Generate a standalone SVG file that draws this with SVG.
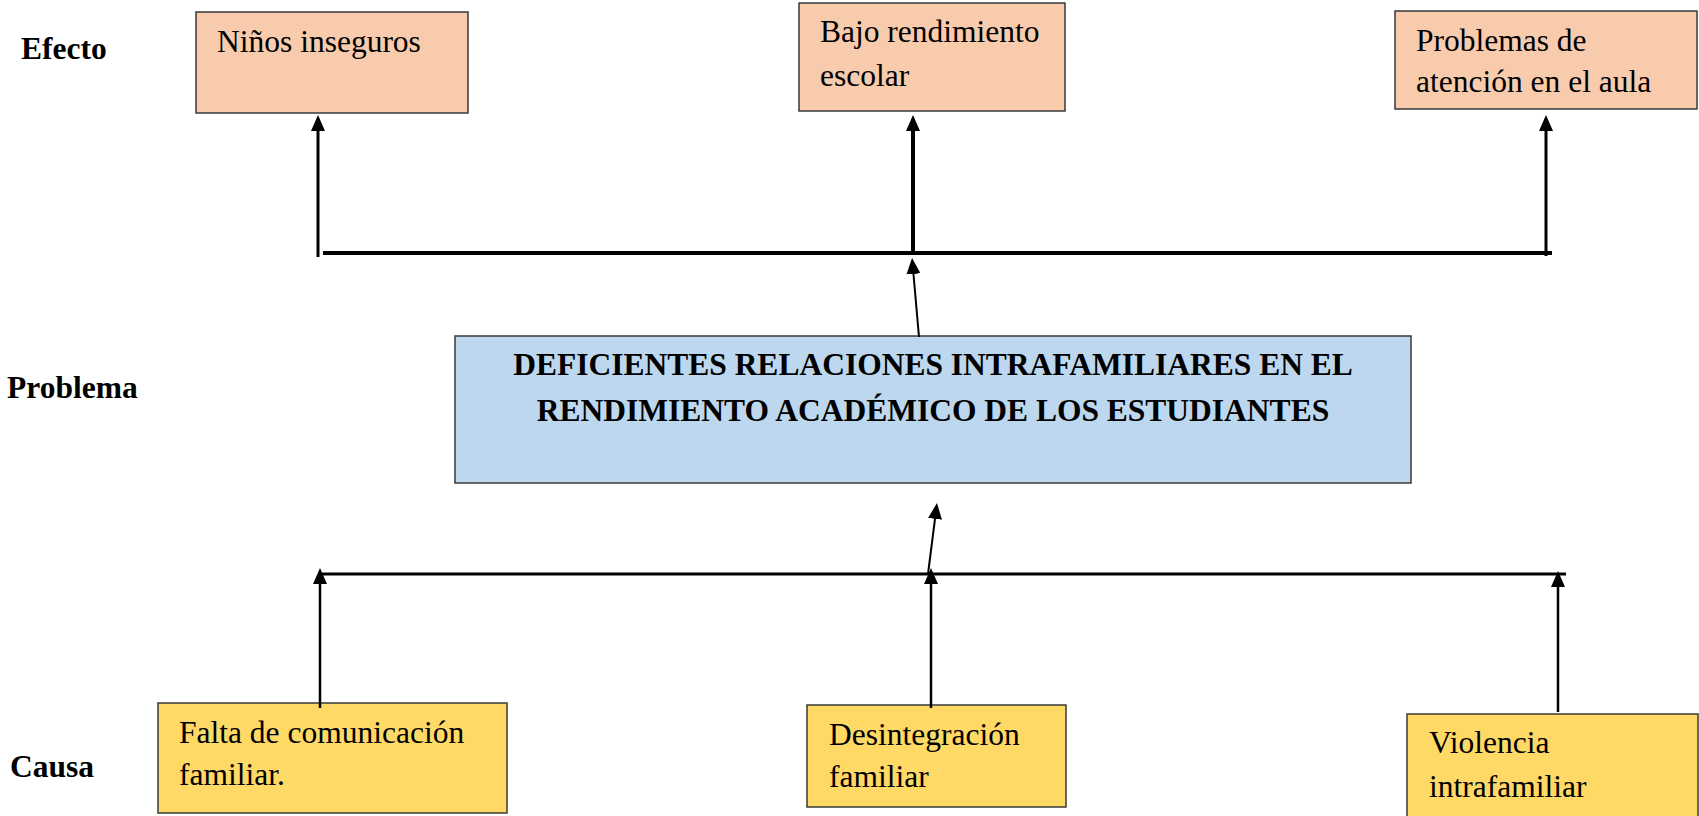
<svg xmlns="http://www.w3.org/2000/svg" width="1699" height="816" viewBox="0 0 1699 816">
<style>
  text { font-family: "Liberation Serif", "Times New Roman", serif; font-size: 31.5px; fill: #000; }
  .lbl { font-weight: bold; }
  .prob { font-weight: bold; text-anchor: middle; }
  .eff { fill: #F8CBAD; stroke: #3a3a3a; stroke-width: 1.5; }
  .cau { fill: #FFD966; stroke: #3a3a3a; stroke-width: 1.5; }
  .pb { fill: #BDD7EE; stroke: #3a3a3a; stroke-width: 1.5; }
  .ln { stroke: #000; fill: none; }
</style>
<defs>
  <marker id="ah" markerUnits="userSpaceOnUse" markerWidth="16" markerHeight="14" refX="12" refY="7" orient="auto" viewBox="0 0 16 14">
    <path d="M0,0 L16,7 L0,14 z" fill="#000"/>
  </marker>
</defs>
<rect width="1699" height="816" fill="#fff"/>

<g id="labels">
  <text class="lbl" x="21" y="59">Efecto</text>
  <text class="lbl" x="7" y="398">Problema</text>
  <text class="lbl" x="10" y="777">Causa</text>
</g>

<g id="effect1">
  <rect class="eff" x="196" y="12" width="272" height="101"/>
  <text x="217" y="52">Niños inseguros</text>
</g>
<g id="effect2">
  <rect class="eff" x="799" y="3" width="266" height="108"/>
  <text x="820" y="42">Bajo rendimiento</text>
  <text x="820" y="86">escolar</text>
</g>
<g id="effect3">
  <rect class="eff" x="1395" y="11" width="302" height="98"/>
  <text x="1416" y="51">Problemas de</text>
  <text x="1416" y="92">atención en el aula</text>
</g>

<g id="problem">
  <rect class="pb" x="455" y="336" width="956" height="147"/>
  <text class="prob" x="933" y="375">DEFICIENTES RELACIONES INTRAFAMILIARES EN EL</text>
  <text class="prob" x="933" y="421">RENDIMIENTO ACADÉMICO DE LOS ESTUDIANTES</text>
</g>

<g id="cause1">
  <rect class="cau" x="158" y="703" width="349" height="110"/>
  <text x="179" y="743">Falta de comunicación</text>
  <text x="179" y="785">familiar.</text>
</g>
<g id="cause2">
  <rect class="cau" x="807" y="705" width="259" height="102"/>
  <text x="829" y="745">Desintegración</text>
  <text x="829" y="787">familiar</text>
</g>
<g id="cause3">
  <rect class="cau" x="1407" y="714" width="291" height="110"/>
  <text x="1429" y="753">Violencia</text>
  <text x="1429" y="797">intrafamiliar</text>
</g>

<g id="connectors">
  <line class="ln" x1="323" y1="253" x2="1552" y2="253" stroke-width="4"/>
  <line class="ln" x1="318" y1="257" x2="318" y2="119" stroke-width="3" marker-end="url(#ah)"/>
  <line class="ln" x1="913" y1="253" x2="913" y2="119" stroke-width="4" marker-end="url(#ah)"/>
  <line class="ln" x1="1546" y1="256" x2="1546" y2="119" stroke-width="3" marker-end="url(#ah)"/>
  <line class="ln" x1="919" y1="337" x2="912.4" y2="262" stroke-width="2" marker-end="url(#ah)"/>

  <line class="ln" x1="322" y1="574" x2="1566" y2="574" stroke-width="3"/>
  <line class="ln" x1="320" y1="708" x2="320" y2="572" stroke-width="2.5" marker-end="url(#ah)"/>
  <line class="ln" x1="931" y1="708" x2="931" y2="572" stroke-width="2.5" marker-end="url(#ah)"/>
  <line class="ln" x1="1558" y1="712" x2="1558" y2="575" stroke-width="2.5" marker-end="url(#ah)"/>
  <line class="ln" x1="928" y1="574" x2="936.5" y2="507" stroke-width="2" marker-end="url(#ah)"/>
</g>
</svg>
